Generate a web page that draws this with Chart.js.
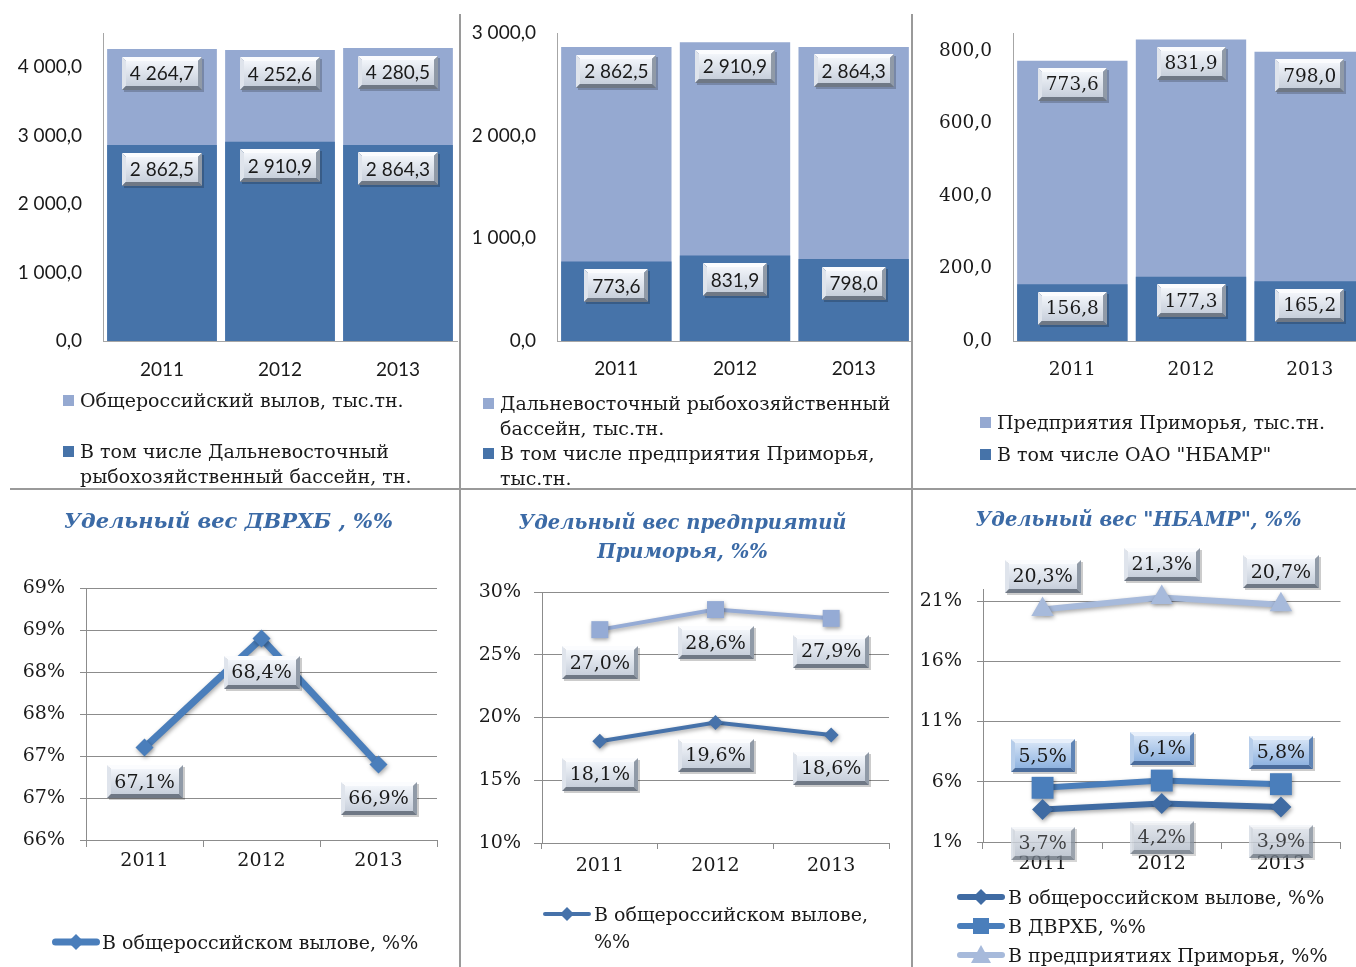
<!DOCTYPE html>
<html>
<head>
<meta charset="utf-8">
<title>Вылов 2011–2013</title>
<script src="https://cdn.jsdelivr.net/npm/chart.js@4.4.1/dist/chart.umd.min.js"></script>
<style>
  html, body { margin: 0; padding: 0; width: 1356px; height: 967px; overflow: hidden; background: #fff; }
  canvas { position: absolute; }
  .sep { position: absolute; background: #9a9a9a; }
  .legend { position: absolute; font: 19px "DejaVu Serif", serif; color: #1a1a1a; line-height: 25px; }
  .legend .item { display: flex; align-items: flex-start; }
  .legend .item + .item { margin-top: var(--gap); }
  .legend .mark { flex: none; width: var(--mark); height: 1lh; display: flex; align-items: center; }
  .legend .mark i { display: block; width: 11px; height: 11px; }
  .legend .mark canvas { position: static; display: block; }
  .legend .text { white-space: pre-line; }
</style>
</head>
<body>
<canvas id="grafico1" width="460" height="489" style="left:0;top:0"></canvas>
<canvas id="grafico2" width="453" height="489" style="left:460px;top:0"></canvas>
<canvas id="grafico3" width="457" height="489" style="left:912px;top:0"></canvas>
<canvas id="grafico4" width="460" height="477" style="left:0;top:490px"></canvas>
<canvas id="grafico5" width="452" height="477" style="left:460px;top:490px"></canvas>
<canvas id="grafico6" width="444" height="477" style="left:912px;top:490px"></canvas>
<div id="legend1" class="legend" style="left:63px;top:387.5px;--mark:17px;--gap:26px"></div>
<div id="legend2" class="legend" style="left:483px;top:390.5px;--mark:17px;--gap:0px"></div>
<div id="legend3" class="legend" style="left:980px;top:409.5px;--mark:17px;--gap:7px"></div>
<div id="legend4" class="legend" style="left:52px;top:929.5px;--mark:50px;--gap:0px"></div>
<div id="legend5" class="legend" style="left:543px;top:900.5px;line-height:27px;--mark:51px;--gap:0px"></div>
<div id="legend6" class="legend" style="left:957px;top:884.5px;--mark:51px;--gap:4px"></div>
<div class="sep" style="left:10px;top:488px;width:1346px;height:2px"></div>
<div class="sep" style="left:459px;top:14px;width:2px;height:953px"></div>
<div class="sep" style="left:911px;top:14px;width:2px;height:953px"></div>
<script>
const years = ['2011', '2012', '2013'];

// вылов, тыс. тонн
const russiaCatch = [4264.7, 4252.6, 4280.5];
const farEastCatch = [2862.5, 2910.9, 2864.3];
const primoryeCatch = [773.6, 831.9, 798.0];
const nbamrCatch = [156.8, 177.3, 165.2];

// удельный вес, %
const farEastShare = [67.1, 68.4, 66.9];
const primoryeInRussia = [18.1, 19.6, 18.6];
const primoryeInFarEast = [27.0, 28.6, 27.9];
const nbamrInRussia = [3.7, 4.2, 3.9];
const nbamrInFarEast = [5.5, 6.1, 5.8];
const nbamrInPrimorye = [20.3, 21.3, 20.7];

// деления осей
const ticksRussia = [0, 1000, 2000, 3000, 4000];
const ticksFarEast = [0, 1000, 2000, 3000];
const ticksPrimorye = [0, 200, 400, 600, 800];
const ticksShareFarEast = [66, 66.5, 67, 67.5, 68, 68.5, 69];
const ticksSharePrimorye = [10, 15, 20, 25, 30];
const ticksShareNbamr = [1, 6, 11, 16, 21];

const SERIF = '"DejaVu Serif", serif';
const SANS = 'Lato, sans-serif';
const LIGHT = '#95a9d1';
const DARK = '#4673a9';
const GRID = '#8c8c8c';
const TEXT = '#1a1a1a';

function num1(v) {
  const p = v.toFixed(1).split('.');
  return p[0].replace(/\B(?=(\d{3})+(?!\d))/g, ' ') + ',' + p[1];
}
function pct1(v) {
  return v.toFixed(1).replace('.', ',') + '%';
}

// подписи данных в "объёмных" рамках
const boxThemes = {
  gray: { face: ['#f2f5fa', '#c7cfdb'], light: '#fbfcfe', mid: '#dfe4ec', dark: '#909aa7', darker: '#6f7885', alpha: 1 },
  blue: { face: ['#d3e2f5', '#8fb3e0'], light: '#e8f0fb', mid: '#b6cdea', dark: '#5f84b5', darker: '#4a6c9c', alpha: 1 },
  faded: { face: ['#e4e9f1', '#bcc5d2'], light: '#f3f5f9', mid: '#d3d9e2', dark: '#8c96a3', darker: '#707a87', alpha: 0.8 }
};

function drawValueBox(ctx, text, cx, cy, font, theme) {
  const t = boxThemes[theme || 'gray'];
  ctx.save();
  ctx.globalAlpha = t.alpha;
  ctx.font = font;
  const w = Math.round(ctx.measureText(text).width + 16);
  const h = 33, b = 4;
  const x = Math.round(cx - w / 2), y = Math.round(cy - h / 2);
  ctx.fillStyle = 'rgba(0,0,0,0.2)';
  ctx.fillRect(x + 2, y + 2, w, h);
  const edge = (color, pts) => {
    ctx.fillStyle = color;
    ctx.beginPath();
    pts.forEach((p, i) => i ? ctx.lineTo(p[0], p[1]) : ctx.moveTo(p[0], p[1]));
    ctx.closePath();
    ctx.fill();
  };
  edge(t.light, [[x, y], [x + w, y], [x + w - b, y + b], [x + b, y + b]]);
  edge(t.mid, [[x, y], [x + b, y + b], [x + b, y + h - b], [x, y + h]]);
  edge(t.dark, [[x + w, y], [x + w, y + h], [x + w - b, y + h - b], [x + w - b, y + b]]);
  edge(t.darker, [[x, y + h], [x + b, y + h - b], [x + w - b, y + h - b], [x + w, y + h]]);
  const g = ctx.createLinearGradient(0, y + b, 0, y + h - b);
  g.addColorStop(0, t.face[0]);
  g.addColorStop(1, t.face[1]);
  ctx.fillStyle = g;
  ctx.fillRect(x + b, y + b, w - 2 * b, h - 2 * b);
  ctx.fillStyle = TEXT;
  ctx.textAlign = 'center';
  ctx.textBaseline = 'middle';
  ctx.fillText(text, cx, cy + 1);
  ctx.restore();
}

const valueBoxes = {
  id: 'valueBoxes',
  afterDatasetsDraw(chart) {
    chart.data.datasets.forEach((ds, i) => {
      if (!ds.valueBox) return;
      chart.getDatasetMeta(i).data.forEach((el, j) => {
        const vb = ds.valueBox;
        drawValueBox(chart.ctx, vb.text(ds.data[j]), el.x, el.y + vb.offset, vb.font, vb.theme);
      });
    });
  }
};

const lineShadow = {
  id: 'lineShadow',
  beforeDatasetsDraw(chart) {
    const c = chart.ctx;
    c.save();
    c.shadowColor = 'rgba(0,0,0,0.35)';
    c.shadowBlur = 4;
    c.shadowOffsetX = 1;
    c.shadowOffsetY = 2;
  },
  afterDatasetsDraw(chart) {
    chart.ctx.restore();
  }
};

// легенда под графиком — обычным HTML-текстом, по наборам данных графика
const htmlLegend = {
  id: 'htmlLegend',
  afterUpdate(chart, args, opts) {
    const box = document.getElementById(opts.target);
    box.innerHTML = '';
    opts.order.forEach(i => {
      const ds = chart.data.datasets[i];
      const row = document.createElement('div');
      row.className = 'item';
      const mark = document.createElement('span');
      mark.className = 'mark';
      if (ds.legendMarker) {
        mark.appendChild(ds.legendMarker);
      } else {
        const sq = document.createElement('i');
        sq.style.background = ds.backgroundColor;
        mark.appendChild(sq);
      }
      const text = document.createElement('span');
      text.className = 'text';
      text.textContent = ds.label;
      row.append(mark, text);
      box.appendChild(row);
    });
  }
};

// значок легенды: линия с маркером
function legendMarker(shape, color, lineWidth, r) {
  const c = document.createElement('canvas');
  c.width = 48;
  c.height = 26;
  const g = c.getContext('2d');
  const cx = 24, cy = 13;
  g.strokeStyle = color;
  g.fillStyle = color;
  g.lineWidth = lineWidth;
  g.lineCap = 'round';
  g.beginPath();
  g.moveTo(lineWidth / 2, cy);
  g.lineTo(48 - lineWidth / 2, cy);
  g.stroke();
  g.beginPath();
  if (shape === 'rect') {
    g.rect(cx - r, cy - r, 2 * r, 2 * r);
  } else if (shape === 'triangle') {
    g.moveTo(cx, cy - r);
    g.lineTo(cx + r, cy + r * 0.8);
    g.lineTo(cx - r, cy + r * 0.8);
  } else {
    g.moveTo(cx, cy - r);
    g.lineTo(cx + r, cy);
    g.lineTo(cx, cy + r);
    g.lineTo(cx - r, cy);
  }
  g.closePath();
  g.fill();
  return c;
}

function catchChart(id, o) {
  const box = { offset: 24, text: num1, font: o.boxFont, theme: 'gray' };
  return new Chart(document.getElementById(id), {
    type: 'bar',
    plugins: [valueBoxes, htmlLegend],
    data: {
      labels: years,
      datasets: [
        { label: o.innerLabel, data: o.inner, backgroundColor: DARK, valueBox: box },
        { label: o.outerLabel, data: o.outer, backgroundColor: LIGHT, valueBox: box }
      ]
    },
    options: {
      responsive: false,
      devicePixelRatio: 1,
      animation: false,
      events: [],
      layout: { padding: o.padding },
      datasets: { bar: { grouped: false, barPercentage: 0.93, categoryPercentage: 1 } },
      scales: {
        x: {
          grid: { display: false, drawTicks: false },
          border: { color: '#a6a6a6' },
          ticks: { color: TEXT, font: o.tickFont, padding: o.xPad },
          afterFit: s => { s.height = 50; }
        },
        y: {
          min: 0,
          max: o.max,
          grid: { display: false, drawTicks: false },
          border: { color: '#a6a6a6' },
          ticks: { color: TEXT, font: o.tickFont, padding: 21, callback: v => num1(v) },
          afterBuildTicks: s => { s.ticks = o.ticks.map(value => ({ value })); },
          afterFit: s => { s.width = o.yWidth; }
        }
      },
      plugins: {
        legend: { display: false },
        tooltip: { enabled: false },
        htmlLegend: { target: o.legend, order: [1, 0] }
      }
    }
  });
}

function shareChart(id, o) {
  return new Chart(document.getElementById(id), {
    type: 'line',
    plugins: [lineShadow, valueBoxes, htmlLegend],
    data: { labels: years, datasets: o.datasets },
    options: {
      responsive: false,
      devicePixelRatio: 1,
      animation: false,
      events: [],
      layout: { padding: o.padding },
      scales: {
        x: {
          offset: true,
          grid: { offset: true, drawOnChartArea: false, tickLength: o.xTick, color: GRID },
          border: { color: GRID },
          ticks: { color: TEXT, font: { family: SERIF, size: 19 }, padding: o.xPad },
          afterFit: s => { s.height = 60; }
        },
        y: {
          min: o.min,
          max: o.max,
          grid: { color: GRID, tickLength: o.yTick },
          border: { color: GRID },
          ticks: { color: TEXT, font: { family: SERIF, size: 19 }, padding: o.yPad, callback: o.tickText },
          afterBuildTicks: s => { s.ticks = o.ticks.map(value => ({ value })); },
          afterFit: s => { s.width = o.yWidth; }
        }
      },
      plugins: {
        title: {
          display: true,
          text: o.title,
          color: '#3b6aa6',
          font: { family: SERIF, size: o.titleSize, weight: 'bold', style: 'italic', lineHeight: o.titleLH || 1.2 },
          padding: o.titlePad
        },
        legend: { display: false },
        tooltip: { enabled: false },
        htmlLegend: { target: o.legend, order: o.legendOrder }
      }
    }
  });
}

function lineSet(label, data, color, width, style, radius, box, marker) {
  return {
    label: label,
    data: data,
    borderColor: color,
    backgroundColor: color,
    borderWidth: width,
    pointStyle: style,
    pointRadius: radius,
    pointBorderWidth: 0,
    tension: 0,
    clip: false,
    valueBox: box,
    legendMarker: marker
  };
}

const serifBox = '19px "DejaVu Serif"';

catchChart('grafico1', {
  inner: farEastCatch,
  innerLabel: 'В том числе Дальневосточный\nрыбохозяйственный бассейн, тн.',
  outer: russiaCatch,
  outerLabel: 'Общероссийский вылов, тыс.тн.',
  max: 4500, ticks: ticksRussia,
  padding: { top: 33, right: 3, bottom: 98, left: 0 },
  yWidth: 103, xPad: 17.6,
  tickFont: { family: SANS, size: 19 }, boxFont: '19px Lato',
  legend: 'legend1'
});

catchChart('grafico2', {
  inner: primoryeCatch,
  innerLabel: 'В том числе предприятия Приморья,\nтыс.тн.',
  outer: farEastCatch,
  outerLabel: 'Дальневосточный рыбохозяйственный\nбассейн, тыс.тн.',
  max: 3000, ticks: ticksFarEast,
  padding: { top: 33, right: 0, bottom: 98, left: 0 },
  yWidth: 97, xPad: 16.6,
  tickFont: { family: SANS, size: 19 }, boxFont: '19px Lato',
  legend: 'legend2'
});

catchChart('grafico3', {
  inner: nbamrCatch,
  innerLabel: 'В том числе ОАО "НБАМР"',
  outer: primoryeCatch,
  outerLabel: 'Предприятия Приморья, тыс.тн.',
  max: 850, ticks: ticksPrimorye,
  padding: { top: 33, right: 0, bottom: 98, left: 0 },
  yWidth: 101, xPad: 18,
  tickFont: { family: SERIF, size: 18.5 }, boxFont: '18.5px "DejaVu Serif"',
  legend: 'legend3'
});

shareChart('grafico4', {
  title: 'Удельный вес ДВРХБ , %%',
  titleSize: 21,
  titlePad: { top: 20.4, bottom: 52.4 },
  min: 66, max: 69, ticks: ticksShareFarEast, tickText: v => Math.round(v) + '%',
  padding: { top: 0, right: 23, bottom: 67, left: 20 },
  yWidth: 66, yTick: 6, yPad: 15, xTick: 7, xPad: 2.6,
  legend: 'legend4', legendOrder: [0],
  datasets: [
    lineSet('В общероссийском вылове, %%', farEastShare, '#4a7ebb', 7, 'rectRot', 9,
      { offset: 34, text: pct1, font: serifBox, theme: 'gray' },
      legendMarker('rectRot', '#4a7ebb', 7, 8))
  ]
});

shareChart('grafico5', {
  title: ['Удельный вес предприятий', 'Приморья, %%'],
  titleSize: 19.5,
  titleLH: 29 / 19.5,
  titlePad: { top: 19.5, bottom: 24.5 },
  min: 10, max: 30, ticks: ticksSharePrimorye, tickText: v => v + '%',
  padding: { top: 0, right: 23, bottom: 64, left: 16 },
  yWidth: 66, yTick: 8, yPad: 13, xTick: 6, xPad: 5.6,
  legend: 'legend5', legendOrder: [0],
  datasets: [
    lineSet('В общероссийском вылове,\n%%', primoryeInRussia, '#4672aa', 4, 'rectRot', 7.5,
      { offset: 33, text: pct1, font: serifBox, theme: 'gray' },
      legendMarker('rectRot', '#4672aa', 4, 7)),
    lineSet('В ДВРХБ, %%', primoryeInFarEast, '#95abd5', 4, 'rect', 12,
      { offset: 33, text: pct1, font: serifBox, theme: 'gray' })
  ]
});

shareChart('grafico6', {
  title: 'Удельный вес "НБАМР", %%',
  titleSize: 19.5,
  titlePad: { top: 19.3, bottom: 56.3 },
  min: 1, max: 22, ticks: ticksShareNbamr, tickText: v => v + '%',
  padding: { top: 0, right: 0, bottom: 65, left: 9 },
  yWidth: 62, yTick: 6, yPad: 15, xTick: 7, xPad: 3.6,
  legend: 'legend6', legendOrder: [0, 1, 2],
  datasets: [
    lineSet('В общероссийском вылове, %%', nbamrInRussia, '#3f6ba3', 6, 'rectRot', 10.5,
      { offset: 34, text: pct1, font: serifBox, theme: 'faded' },
      legendMarker('rectRot', '#3f6ba3', 6, 8)),
    lineSet('В ДВРХБ, %%', nbamrInFarEast, '#4a7ebb', 6, 'rect', 15.5,
      { offset: -32, text: pct1, font: serifBox, theme: 'blue' },
      legendMarker('rect', '#4a7ebb', 6, 8)),
    lineSet('В предприятиях Приморья, %%', nbamrInPrimorye, '#a7badb', 6, 'triangle', 13,
      { offset: -33, text: pct1, font: serifBox, theme: 'gray' },
      legendMarker('triangle', '#a7badb', 6, 10))
  ]
});
</script>
</body>
</html>
